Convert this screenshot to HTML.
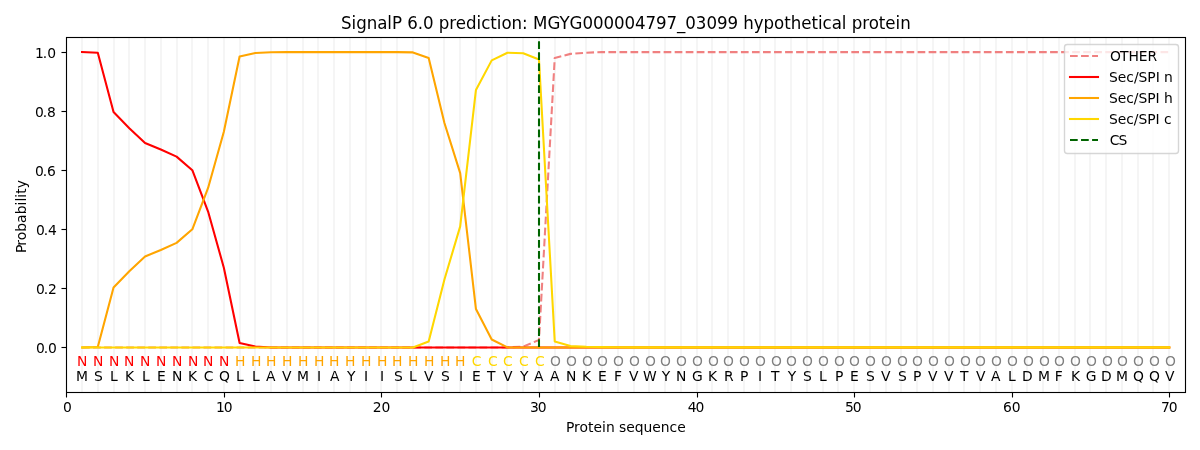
<!DOCTYPE html>
<html lang="en"><head><meta charset="utf-8"><title>SignalP 6.0 prediction</title>
<style>
html,body{margin:0;padding:0;background:#ffffff;}
body{width:1200px;height:450px;overflow:hidden;}
svg{display:block;}
text{white-space:pre;}
</style></head><body>
<svg width="1200" height="450" viewBox="0 0 1200 450">
<defs><clipPath id="ax"><rect x="66.5" y="37.5" width="1119.0" height="355.0"/></clipPath></defs>
<rect width="1200" height="450" fill="#ffffff"/>
<g clip-path="url(#ax)" fill="none" stroke-linejoin="round">
<path d="M82 37V393M98 37V393M114 37V393M129 37V393M145 37V393M161 37V393M177 37V393M192 37V393M208 37V393M224 37V393M240 37V393M255 37V393M271 37V393M287 37V393M303 37V393M318 37V393M334 37V393M350 37V393M366 37V393M381 37V393M397 37V393M413 37V393M429 37V393M444 37V393M460 37V393M476 37V393M492 37V393M507 37V393M523 37V393M539 37V393M555 37V393M570 37V393M586 37V393M602 37V393M618 37V393M634 37V393M649 37V393M665 37V393M681 37V393M697 37V393M712 37V393M728 37V393M744 37V393M760 37V393M775 37V393M791 37V393M807 37V393M823 37V393M838 37V393M854 37V393M870 37V393M886 37V393M901 37V393M917 37V393M933 37V393M949 37V393M964 37V393M980 37V393M996 37V393M1012 37V393M1027 37V393M1043 37V393M1059 37V393M1075 37V393M1090 37V393M1106 37V393M1122 37V393M1138 37V393M1153 37V393M1169 37V393" stroke="#f5f5f5" stroke-width="2.0833"/>
<path d="M82.034 347.424L97.791 347.424L113.548 347.424L129.304 347.424L145.061 347.424L160.818 347.424L176.574 347.424L192.331 347.424L208.088 347.424L223.844 347.424L239.601 347.424L255.358 347.424L271.114 347.424L286.871 347.424L302.628 347.424L318.384 347.424L334.141 347.424L349.897 347.424L365.654 347.424L381.411 347.424L397.167 347.424L412.924 347.424L428.681 347.424L444.437 347.424L460.194 347.424L475.951 347.424L491.707 347.424L507.464 347.424L523.221 346.538L538.977 340.041L554.734 58.006L570.491 53.871L586.247 52.690L602.004 52.100L617.761 52.100L633.517 52.100L649.274 52.100L665.031 52.100L680.787 52.100L696.544 52.100L712.300 52.100L728.057 52.100L743.814 52.100L759.570 52.100L775.327 52.100L791.084 52.100L806.840 52.100L822.597 52.100L838.354 52.100L854.110 52.100L869.867 52.100L885.624 52.100L901.380 52.100L917.137 52.100L932.894 52.100L948.650 52.100L964.407 52.100L980.164 52.100L995.920 52.100L1011.677 52.100L1027.433 52.100L1043.190 52.100L1058.947 52.100L1074.703 52.100L1090.460 52.100L1106.217 52.100L1121.973 52.100L1137.730 52.100L1153.487 52.100L1169.243 52.100" stroke="#f08080" stroke-width="2.0833" stroke-dasharray="7.7083 3.3333"/>
<path d="M82.034 52.100L97.791 52.690L113.548 112.050L129.304 128.293L145.061 143.059L160.818 149.556L176.574 156.644L192.331 170.229L208.088 211.575L223.844 267.686L239.601 342.994L255.358 346.538L271.114 347.424L286.871 347.424L302.628 347.424L318.384 347.424L334.141 347.424L349.897 347.424L365.654 347.424L381.411 347.424L397.167 347.424L412.924 347.424L428.681 347.424L444.437 347.424L460.194 347.424L475.951 347.424L491.707 347.424L507.464 347.424L523.221 347.424L538.977 347.424L554.734 347.424L570.491 347.424L586.247 347.424L602.004 347.424L617.761 347.424L633.517 347.424L649.274 347.424L665.031 347.424L680.787 347.424L696.544 347.424L712.300 347.424L728.057 347.424L743.814 347.424L759.570 347.424L775.327 347.424L791.084 347.424L806.840 347.424L822.597 347.424L838.354 347.424L854.110 347.424L869.867 347.424L885.624 347.424L901.380 347.424L917.137 347.424L932.894 347.424L948.650 347.424L964.407 347.424L980.164 347.424L995.920 347.424L1011.677 347.424L1027.433 347.424L1043.190 347.424L1058.947 347.424L1074.703 347.424L1090.460 347.424L1106.217 347.424L1121.973 347.424L1137.730 347.424L1153.487 347.424L1169.243 347.424" stroke="#ff0000" stroke-width="2.0833" stroke-linecap="square"/>
<path d="M82.034 347.424L97.791 346.981L113.548 287.473L129.304 271.230L145.061 256.464L160.818 249.967L176.574 242.879L192.331 229.294L208.088 187.949L223.844 131.837L239.601 56.529L255.358 52.986L271.114 52.247L286.871 52.100L302.628 52.100L318.384 52.100L334.141 52.100L349.897 52.100L365.654 52.100L381.411 52.100L397.167 52.100L412.924 52.395L428.681 58.006L444.437 122.977L460.194 173.182L475.951 309.031L491.707 339.450L507.464 347.424L523.221 347.424L538.977 347.424L554.734 347.424L570.491 347.424L586.247 347.424L602.004 347.424L617.761 347.424L633.517 347.424L649.274 347.424L665.031 347.424L680.787 347.424L696.544 347.424L712.300 347.424L728.057 347.424L743.814 347.424L759.570 347.424L775.327 347.424L791.084 347.424L806.840 347.424L822.597 347.424L838.354 347.424L854.110 347.424L869.867 347.424L885.624 347.424L901.380 347.424L917.137 347.424L932.894 347.424L948.650 347.424L964.407 347.424L980.164 347.424L995.920 347.424L1011.677 347.424L1027.433 347.424L1043.190 347.424L1058.947 347.424L1074.703 347.424L1090.460 347.424L1106.217 347.424L1121.973 347.424L1137.730 347.424L1153.487 347.424L1169.243 347.424" stroke="#ffa500" stroke-width="2.0833" stroke-linecap="square"/>
<path d="M82.034 347.424L97.791 347.424L113.548 347.424L129.304 347.424L145.061 347.424L160.818 347.424L176.574 347.424L192.331 347.424L208.088 347.424L223.844 347.424L239.601 347.424L255.358 347.424L271.114 347.424L286.871 347.424L302.628 347.424L318.384 347.424L334.141 347.424L349.897 347.424L365.654 347.424L381.411 347.424L397.167 347.424L412.924 347.424L428.681 341.517L444.437 279.499L460.194 226.341L475.951 89.901L491.707 60.369L507.464 52.690L523.221 53.281L538.977 59.483L554.734 341.517L570.491 345.947L586.247 346.833L602.004 347.128L617.761 347.246L633.517 347.335L649.274 347.335L665.031 347.335L680.787 347.335L696.544 347.335L712.300 347.335L728.057 347.335L743.814 347.335L759.570 347.335L775.327 347.335L791.084 347.335L806.840 347.335L822.597 347.335L838.354 347.335L854.110 347.335L869.867 347.335L885.624 347.335L901.380 347.335L917.137 347.335L932.894 347.335L948.650 347.335L964.407 347.335L980.164 347.335L995.920 347.335L1011.677 347.335L1027.433 347.335L1043.190 347.335L1058.947 347.335L1074.703 347.335L1090.460 347.335L1106.217 347.335L1121.973 347.335L1137.730 347.335L1153.487 347.335L1169.243 347.335" stroke="#ffd700" stroke-width="2.0833" stroke-linecap="square"/>
<path d="M539.0 347.000V41.000" stroke="#006400" stroke-width="2.0833" stroke-dasharray="7.7083 3.3333"/>
</g>
<path d="M66.5 392.500v5.000M224.5 392.500v5.000M381.5 392.500v5.000M539.5 392.500v5.000M697.5 392.500v5.000M854.5 392.500v5.000M1012.5 392.500v5.000M1169.5 392.500v5.000M66.500 347.5h-5.000M66.500 288.5h-5.000M66.500 229.5h-5.000M66.500 170.5h-5.000M66.500 111.5h-5.000M66.500 52.5h-5.000" stroke="#000000" stroke-width="1.1111" fill="none"/>
<path d="M66.0 37.5H1186.0M66.0 392.5H1186.0M66.5 347.5h-5.0M66.5 288.5h-5.0M66.5 229.5h-5.0M66.5 170.5h-5.0M66.5 111.5h-5.0M66.5 52.5h-5.0" stroke="#000000" stroke-opacity="0.055" stroke-width="3" fill="none"/>
<path d="M66.5 37.5H1185.5V392.5H66.5Z" stroke="#000000" stroke-width="1.1111" fill="none" stroke-linejoin="miter"/>
<g font-family="'DejaVu Sans', 'Liberation Sans', sans-serif">
<text id="t0" x="63.09" y="412" font-size="13.889">0</text>
<text id="t1" x="215.88 223.76" y="412" font-size="13.889">10</text>
<text id="t2" x="372.86 381.61" y="412" font-size="13.889">20</text>
<text id="t3" x="530.02 537.77" y="412" font-size="13.889">30</text>
<text id="t4" x="687.85 695.6" y="412" font-size="13.889">40</text>
<text id="t5" x="844.99 852.74" y="412" font-size="13.889">50</text>
<text id="t6" x="1002.96 1011.84" y="412" font-size="13.889">60</text>
<text id="t7" x="1161 1168.75" y="412" font-size="13.889">70</text>
<text id="t8" x="565.95 574.08 579.58 588.08 593.58 602.08 605.95 614.7 619.08 626.2 634.7 643.58 652.33 660.83 669.58 677.2" y="432" font-size="13.889">Protein sequence</text>
<text id="t9" x="35.93 43.68 48.05" y="353" font-size="13.889">0.0</text>
<text id="t10" x="35.93 43.68 48.05" y="294" font-size="13.889">0.2</text>
<text id="t11" x="35.96 43.71 48.08" y="235" font-size="13.889">0.4</text>
<text id="t12" x="34.96 42.71 47.09" y="176" font-size="13.889">0.6</text>
<text id="t13" x="34.97 42.72 47.1" y="117" font-size="13.889">0.8</text>
<text id="t14" x="34.94 42.82 47.19" y="58" font-size="13.889">1.0</text>
<text id="t15" transform="translate(26.02 214.53) rotate(-90)" x="-38.46 -31.33 -25.83 -17.33 -8.46 0.17 9.04 12.92 16.79 20.67 26.17" y="0.08" font-size="13.889">Probability</text>
<text id="t16" x="76.07" y="381" font-size="13.889">M</text>
<text id="t17" x="77.07" y="366" font-size="13.889" fill="#ff0000">N</text>
<text id="t18" x="93.91" y="381" font-size="13.889">S</text>
<text id="t19" x="92.91" y="366" font-size="13.889" fill="#ff0000">N</text>
<text id="t20" x="109.93" y="381" font-size="13.889">L</text>
<text id="t21" x="109.12" y="366" font-size="13.889" fill="#ff0000">N</text>
<text id="t22" x="124.98" y="381" font-size="13.889">K</text>
<text id="t23" x="124.07" y="366" font-size="13.889" fill="#ff0000">N</text>
<text id="t24" x="142.02" y="381" font-size="13.889">L</text>
<text id="t25" x="140.1" y="366" font-size="13.889" fill="#ff0000">N</text>
<text id="t26" x="157.05" y="381" font-size="13.889">E</text>
<text id="t27" x="156.04" y="366" font-size="13.889" fill="#ff0000">N</text>
<text id="t28" x="171.88" y="381" font-size="13.889">N</text>
<text id="t29" x="172.07" y="366" font-size="13.889" fill="#ff0000">N</text>
<text id="t30" x="188.01" y="381" font-size="13.889">K</text>
<text id="t31" x="187.91" y="366" font-size="13.889" fill="#ff0000">N</text>
<text id="t32" x="203.87" y="381" font-size="13.889">C</text>
<text id="t33" x="202.94" y="366" font-size="13.889" fill="#ff0000">N</text>
<text id="t34" x="219.08" y="381" font-size="13.889">Q</text>
<text id="t35" x="219.06" y="366" font-size="13.889" fill="#ff0000">N</text>
<text id="t36" x="235.99" y="381" font-size="13.889">L</text>
<text id="t37" x="234.93" y="366" font-size="13.889" fill="#ffa500">H</text>
<text id="t38" x="252.11" y="381" font-size="13.889">L</text>
<text id="t39" x="250.98" y="366" font-size="13.889" fill="#ffa500">H</text>
<text id="t40" x="265.91" y="381" font-size="13.889">A</text>
<text id="t41" x="266.06" y="366" font-size="13.889" fill="#ffa500">H</text>
<text id="t42" x="282.07" y="381" font-size="13.889">V</text>
<text id="t43" x="281.98" y="366" font-size="13.889" fill="#ffa500">H</text>
<text id="t44" x="297.07" y="381" font-size="13.889">M</text>
<text id="t45" x="297.96" y="366" font-size="13.889" fill="#ffa500">H</text>
<text id="t46" x="317.01" y="381" font-size="13.889">I</text>
<text id="t47" x="314" y="366" font-size="13.889" fill="#ffa500">H</text>
<text id="t48" x="329.97" y="381" font-size="13.889">A</text>
<text id="t49" x="329.09" y="366" font-size="13.889" fill="#ffa500">H</text>
<text id="t50" x="346.89" y="381" font-size="13.889">Y</text>
<text id="t51" x="345.01" y="366" font-size="13.889" fill="#ffa500">H</text>
<text id="t52" x="363.96" y="381" font-size="13.889">I</text>
<text id="t53" x="360.98" y="366" font-size="13.889" fill="#ffa500">H</text>
<text id="t54" x="380.12" y="381" font-size="13.889">I</text>
<text id="t55" x="376.95" y="366" font-size="13.889" fill="#ffa500">H</text>
<text id="t56" x="393.96" y="381" font-size="13.889">S</text>
<text id="t57" x="392.12" y="366" font-size="13.889" fill="#ffa500">H</text>
<text id="t58" x="409.11" y="381" font-size="13.889">L</text>
<text id="t59" x="408.03" y="366" font-size="13.889" fill="#ffa500">H</text>
<text id="t60" x="423.88" y="381" font-size="13.889">V</text>
<text id="t61" x="424.01" y="366" font-size="13.889" fill="#ffa500">H</text>
<text id="t62" x="440.97" y="381" font-size="13.889">S</text>
<text id="t63" x="439.98" y="366" font-size="13.889" fill="#ffa500">H</text>
<text id="t64" x="458.99" y="381" font-size="13.889">I</text>
<text id="t65" x="454.89" y="366" font-size="13.889" fill="#ffa500">H</text>
<text id="t66" x="471.88" y="381" font-size="13.889">E</text>
<text id="t67" x="471.87" y="366" font-size="13.889" fill="#ffd700">C</text>
<text id="t68" x="486.97" y="381" font-size="13.889">T</text>
<text id="t69" x="487.91" y="366" font-size="13.889" fill="#ffd700">C</text>
<text id="t70" x="502.91" y="381" font-size="13.889">V</text>
<text id="t71" x="502.96" y="366" font-size="13.889" fill="#ffd700">C</text>
<text id="t72" x="520" y="381" font-size="13.889">Y</text>
<text id="t73" x="518.93" y="366" font-size="13.889" fill="#ffd700">C</text>
<text id="t74" x="534.04" y="381" font-size="13.889">A</text>
<text id="t75" x="534.89" y="366" font-size="13.889" fill="#ffd700">C</text>
<text id="t76" x="550.06" y="381" font-size="13.889">A</text>
<text id="t77" x="550.06" y="366" font-size="13.889" fill="#808080">O</text>
<text id="t78" x="566.01" y="381" font-size="13.889">N</text>
<text id="t79" x="565.93" y="366" font-size="13.889" fill="#808080">O</text>
<text id="t80" x="581.92" y="381" font-size="13.889">K</text>
<text id="t81" x="581.9" y="366" font-size="13.889" fill="#808080">O</text>
<text id="t82" x="598.08" y="381" font-size="13.889">E</text>
<text id="t83" x="597.03" y="366" font-size="13.889" fill="#808080">O</text>
<text id="t84" x="613.89" y="381" font-size="13.889">F</text>
<text id="t85" x="613.09" y="366" font-size="13.889" fill="#808080">O</text>
<text id="t86" x="628.98" y="381" font-size="13.889">V</text>
<text id="t87" x="628.96" y="366" font-size="13.889" fill="#808080">O</text>
<text id="t88" x="642.96" y="381" font-size="13.889">W</text>
<text id="t89" x="644.93" y="366" font-size="13.889" fill="#808080">O</text>
<text id="t90" x="661.8" y="381" font-size="13.889">Y</text>
<text id="t91" x="660.02" y="366" font-size="13.889" fill="#808080">O</text>
<text id="t92" x="675.88" y="381" font-size="13.889">N</text>
<text id="t93" x="676.12" y="366" font-size="13.889" fill="#808080">O</text>
<text id="t94" x="692.11" y="381" font-size="13.889">G</text>
<text id="t95" x="691.99" y="366" font-size="13.889" fill="#808080">O</text>
<text id="t96" x="707.98" y="381" font-size="13.889">K</text>
<text id="t97" x="707.95" y="366" font-size="13.889" fill="#808080">O</text>
<text id="t98" x="724.02" y="381" font-size="13.889">R</text>
<text id="t99" x="723.05" y="366" font-size="13.889" fill="#808080">O</text>
<text id="t100" x="740.1" y="381" font-size="13.889">P</text>
<text id="t101" x="739.09" y="366" font-size="13.889" fill="#808080">O</text>
<text id="t102" x="758.03" y="381" font-size="13.889">I</text>
<text id="t103" x="754.98" y="366" font-size="13.889" fill="#808080">O</text>
<text id="t104" x="770.91" y="381" font-size="13.889">T</text>
<text id="t105" x="770.98" y="366" font-size="13.889" fill="#808080">O</text>
<text id="t106" x="787.86" y="381" font-size="13.889">Y</text>
<text id="t107" x="785.97" y="366" font-size="13.889" fill="#808080">O</text>
<text id="t108" x="802.91" y="381" font-size="13.889">S</text>
<text id="t109" x="802.12" y="366" font-size="13.889" fill="#808080">O</text>
<text id="t110" x="818.98" y="381" font-size="13.889">L</text>
<text id="t111" x="818" y="366" font-size="13.889" fill="#808080">O</text>
<text id="t112" x="835.03" y="381" font-size="13.889">P</text>
<text id="t113" x="834.01" y="366" font-size="13.889" fill="#808080">O</text>
<text id="t114" x="849.89" y="381" font-size="13.889">E</text>
<text id="t115" x="849" y="366" font-size="13.889" fill="#808080">O</text>
<text id="t116" x="865.94" y="381" font-size="13.889">S</text>
<text id="t117" x="864.9" y="366" font-size="13.889" fill="#808080">O</text>
<text id="t118" x="881.09" y="381" font-size="13.889">V</text>
<text id="t119" x="881.03" y="366" font-size="13.889" fill="#808080">O</text>
<text id="t120" x="897.91" y="381" font-size="13.889">S</text>
<text id="t121" x="897.03" y="366" font-size="13.889" fill="#808080">O</text>
<text id="t122" x="913.02" y="381" font-size="13.889">P</text>
<text id="t123" x="912.02" y="366" font-size="13.889" fill="#808080">O</text>
<text id="t124" x="928.11" y="381" font-size="13.889">V</text>
<text id="t125" x="927.92" y="366" font-size="13.889" fill="#808080">O</text>
<text id="t126" x="944.11" y="381" font-size="13.889">V</text>
<text id="t127" x="944.02" y="366" font-size="13.889" fill="#808080">O</text>
<text id="t128" x="959.99" y="381" font-size="13.889">T</text>
<text id="t129" x="960.09" y="366" font-size="13.889" fill="#808080">O</text>
<text id="t130" x="976.07" y="381" font-size="13.889">V</text>
<text id="t131" x="975.05" y="366" font-size="13.889" fill="#808080">O</text>
<text id="t132" x="990.98" y="381" font-size="13.889">A</text>
<text id="t133" x="990.95" y="366" font-size="13.889" fill="#808080">O</text>
<text id="t134" x="1008.09" y="381" font-size="13.889">L</text>
<text id="t135" x="1007.05" y="366" font-size="13.889" fill="#808080">O</text>
<text id="t136" x="1021.91" y="381" font-size="13.889">D</text>
<text id="t137" x="1023.12" y="366" font-size="13.889" fill="#808080">O</text>
<text id="t138" x="1038.02" y="381" font-size="13.889">M</text>
<text id="t139" x="1039.09" y="366" font-size="13.889" fill="#808080">O</text>
<text id="t140" x="1054.85" y="381" font-size="13.889">F</text>
<text id="t141" x="1053.98" y="366" font-size="13.889" fill="#808080">O</text>
<text id="t142" x="1070.99" y="381" font-size="13.889">K</text>
<text id="t143" x="1070.07" y="366" font-size="13.889" fill="#808080">O</text>
<text id="t144" x="1085.87" y="381" font-size="13.889">G</text>
<text id="t145" x="1085.9" y="366" font-size="13.889" fill="#808080">O</text>
<text id="t146" x="1100.93" y="381" font-size="13.889">D</text>
<text id="t147" x="1102.12" y="366" font-size="13.889" fill="#808080">O</text>
<text id="t148" x="1116.01" y="381" font-size="13.889">M</text>
<text id="t149" x="1117" y="366" font-size="13.889" fill="#808080">O</text>
<text id="t150" x="1132.91" y="381" font-size="13.889">Q</text>
<text id="t151" x="1133.06" y="366" font-size="13.889" fill="#808080">O</text>
<text id="t152" x="1149.07" y="381" font-size="13.889">Q</text>
<text id="t153" x="1148.92" y="366" font-size="13.889" fill="#808080">O</text>
<text id="t154" x="1164.95" y="381" font-size="13.889">V</text>
<text id="t155" x="1164.9" y="366" font-size="13.889" fill="#808080">O</text>
<text id="t156" transform="matrix(1 0 0 1.075 0 29)" x="341.07 351.57 356.19 366.69 377.19 387.32 391.94 402.07 407.32 417.82 423.07 433.57 438.82 449.32 455.82 466.07 476.57 481.19 490.32 496.82 501.44 511.57 522.07 527.82 533.07 547.44 559.44 569.57 582.44 592.94 603.44 613.94 624.44 634.94 645.44 655.94 666.44 676.94 685.32 695.82 706.44 716.94 727.44 737.94 743.19 753.69 763.57 774.07 784.19 790.69 801.19 811.44 817.94 822.57 831.69 841.82 846.44 851.69 862.19 868.69 878.82 885.32 895.57 900.19" y="0" font-size="16.667">SignalP 6.0 prediction: MGYG000004797_03099 hypothetical protein</text>
</g>
<rect x="1064.5" y="44.5" width="114.0" height="109.0" rx="2.778" fill="#ffffff" fill-opacity="0.8" stroke="#cccccc" stroke-opacity="0.8" stroke-width="1.3889"/>
<path d="M1070.0 56.0H1098.0" stroke="#f08080" stroke-width="2.0833" fill="none" stroke-dasharray="7.7083 3.3333"/>
<path d="M1070.0 77.0H1098.0" stroke="#ff0000" stroke-width="2.0833" fill="none" stroke-linecap="square"/>
<path d="M1070.0 98.0H1098.0" stroke="#ffa500" stroke-width="2.0833" fill="none" stroke-linecap="square"/>
<path d="M1070.0 119.0H1098.0" stroke="#ffd700" stroke-width="2.0833" fill="none" stroke-linecap="square"/>
<path d="M1070.0 140.0H1098.0" stroke="#006400" stroke-width="2.0833" fill="none" stroke-dasharray="7.7083 3.3333"/>
<g font-family="'DejaVu Sans', 'Liberation Sans', sans-serif">
<text id="t157" x="1110 1119.88 1128.38 1138.75 1147.5" y="61" font-size="13.889">OTHER</text>
<text id="t158" x="1109.06 1117.81 1126.31 1133.94 1138.56 1147.31 1155.69 1159.69 1164.06" y="82" font-size="13.889">Sec/SPI n</text>
<text id="t159" x="1109 1117.75 1126.25 1133.87 1138.5 1147.25 1155.62 1159.62 1164" y="103" font-size="13.889">Sec/SPI h</text>
<text id="t160" x="1108.89 1117.64 1126.14 1133.77 1138.39 1147.14 1155.52 1159.52 1163.89" y="124" font-size="13.889">Sec/SPI c</text>
<text id="t161" x="1109.86 1118.61" y="145" font-size="13.889">CS</text>
</g>
</svg>
</body></html>
